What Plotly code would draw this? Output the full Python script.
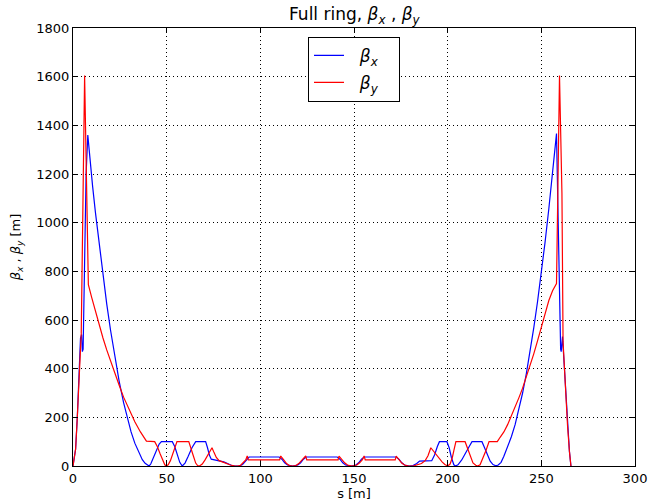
import plotly.graph_objects as go

# ---- data (s in m, beta in m) ----
s_x = [0, 1.4, 2.3, 3.2, 4.0, 4.6, 5.0, 5.4, 6.3, 7.0, 7.9, 9, 10.5, 12, 14, 16, 18, 20, 22, 24.6,
       27, 29, 31, 33, 35, 37, 38.5, 40, 40.6, 41.5, 43, 44.5, 46, 47.2, 53, 54.3, 55.7, 57, 58.3,
       59.8, 61.5, 63.5, 65.5, 70.8, 71.8, 72.8, 73.8, 77, 80.5, 82.5, 84.5, 86.5, 89, 90.5, 92,
       93.2, 94, 110, 111.5, 113, 114.5, 117.2, 120, 121.5, 123, 124.5, 141, 142.5, 144, 145.5,
       148.5, 151, 152.5, 154, 155.4, 172.5, 174, 175.5, 177, 179.5, 181.5, 183.5, 185, 191.5,
       193, 194.5, 195.6, 199.6, 200.8, 202, 203.3, 204.2, 205.5, 207.5, 209.5, 211.5, 213,
       218.3, 219.7, 221.2, 222.7, 224.2, 225.7, 227, 228.5, 230, 232, 234, 236, 238, 240, 242,
       244, 246, 248, 250, 252, 254, 256, 258.1, 260.3, 260.6, 261.3, 262.5, 263.3, 264, 265,
       265.8]
beta_x = [0, 70, 200, 370, 525, 540, 470, 480, 900, 1200, 1360, 1259, 1147, 1040, 907, 782, 666,
          560, 462, 350, 260, 195, 140, 94, 57, 26, 11, 1, 0, 8, 35, 65, 90, 100, 100, 80, 45,
          15, 0, 12, 40, 75, 100, 100, 75, 45, 28, 22, 17, 10, 3, 0, 1, 6, 18, 30, 37, 37, 28,
          13, 4, 0, 4, 13, 28, 37, 37, 28, 13, 4, 0, 4, 13, 28, 37, 37, 28, 13, 4, 0, 2, 10, 20,
          22, 45, 80, 100, 100, 75, 35, 5, 0, 5, 25, 50, 80, 100, 100, 75, 45, 20, 6, 1, 4, 15,
          40, 80, 120, 170, 230, 300, 380, 470, 570, 677, 795, 920, 1057, 1200, 1366, 480, 470,
          532, 370, 250, 164, 60, 0]

s_y = [0, 1.4, 2.3, 3.2, 4.0, 4.4, 6.2, 8.2, 10, 12, 14, 16, 18, 20, 22, 24.6, 27, 30, 33, 36,
       39.2, 43.6, 45, 46.5, 48, 49, 49.8, 50.8, 52, 53.3, 54.5, 55.5, 61.8, 63, 64.3, 65.5,
       66.5, 67.5, 69, 70.5, 72, 73.3, 74.2, 75.3, 76.5, 78, 80, 82, 84, 86, 88, 89.5, 91, 92.2,
       93, 93.6, 110.3, 110.9, 112.5, 114, 115.5, 117.2, 119, 120.5, 122.3, 124.2, 124.8, 141.5,
       142, 143.5, 145, 146.5, 149, 151.5, 153, 154.5, 155.4, 156, 172, 172.5, 174, 175.5, 177,
       179, 182, 184, 186, 188, 189.5, 191, 193, 195, 197, 198.5, 200, 201.3, 202.5, 203.5,
       204.4, 209.3, 210.5, 212, 213.5, 215, 216, 217.3, 218.8, 220.5, 222.1, 226.5, 228, 230,
       232, 234, 236, 238, 240, 242, 244, 246, 248, 250, 252, 254, 256, 258.1, 259.7, 261.0,
       261.6, 262.5, 263.3, 264, 265, 265.8]
beta_y = [0, 70, 200, 370, 525, 545, 1605, 745, 692, 634, 578, 526, 477, 431, 388, 333, 283, 230,
          182, 140, 102, 100, 80, 50, 20, 5, 0, 5, 22, 52, 80, 100, 100, 75, 40, 12, 2, 0, 8,
          25, 45, 62, 75, 55, 35, 22, 15, 9, 4, 1, 0, 3, 13, 25, 41, 25, 25, 41, 25, 10, 2, 0,
          2, 10, 25, 41, 25, 25, 41, 26, 13, 4, 0, 4, 13, 26, 41, 25, 25, 41, 26, 12, 4, 0, 1,
          4, 10, 22, 42, 75, 55, 35, 17, 6, 0, 8, 35, 70, 100, 100, 75, 40, 13, 3, 0, 5, 30, 65,
          100, 100, 118, 140, 170, 205, 243, 280, 320, 365, 412, 462, 515, 570, 625, 680, 720,
          750, 1605, 1120, 510, 370, 250, 164, 60, 0]

x_ticks = [0, 50, 100, 150, 200, 250, 300]
y_ticks = [0, 200, 400, 600, 800, 1000, 1200, 1400, 1600, 1800]

FONT = "DejaVu Sans"
NB = "\u00a0"

fig = go.Figure()
fig.add_trace(go.Scatter(x=s_x, y=beta_x, mode="lines",
                         name=NB * 2 + "<i>β<sub>x</sub></i>" + NB * 3, legendgroup="bx",
                         line=dict(color="#0000ff", width=1.2)))
fig.add_trace(go.Scatter(x=s_y, y=beta_y, mode="lines",
                         name=NB * 2 + "<i>β<sub>y</sub></i>" + NB * 3, legendgroup="by",
                         line=dict(color="#ff0000", width=1.2)))

axis_common = dict(showgrid=True, gridcolor="black", griddash="1px,3px", gridwidth=1,
                   showline=True, linecolor="black", linewidth=1, mirror="allticks",
                   ticks="inside", ticklen=5, tickcolor="black", zeroline=False,
                   automargin=False,
                   tickfont=dict(family=FONT, size=13, color="black"))

fig.update_layout(
    width=653, height=504,
    margin=dict(l=73, r=18, t=28, b=38, autoexpand=False),
    paper_bgcolor="white", plot_bgcolor="white",
    font=dict(family=FONT, color="black"),
    title=dict(text="Full ring, <i>β<sub>x</sub></i> , <i>β<sub>y</sub></i>",
               x=0.5426, xanchor="center", y=0.972, yanchor="middle", yref="container",
               automargin=False,
               font=dict(family=FONT, size=17, color="black")),
    xaxis=dict(range=[0, 300], tickvals=x_ticks, ticktext=[str(v) for v in x_ticks],
               title=dict(text="s [m]", font=dict(family=FONT, size=13), standoff=4),
               **axis_common),
    yaxis=dict(range=[0, 1800], tickvals=y_ticks, ticktext=[str(v) for v in y_ticks],
               title=dict(text="<i>β<sub>x</sub></i> , <i>β<sub>y</sub></i> [m]",
                          font=dict(family=FONT, size=13), standoff=12),
               **axis_common),
    legend=dict(x=0.5, xanchor="center", y=0.98, yanchor="top",
                bordercolor="black", borderwidth=1, bgcolor="white",
                font=dict(family=FONT, size=17, color="black"),
                itemwidth=30, tracegroupgap=2),
    showlegend=True,
)

fig.write_html("out.html", config={"displayModeBar": False},
               post_script="document.body.style.margin='0';document.body.style.padding='0';")
